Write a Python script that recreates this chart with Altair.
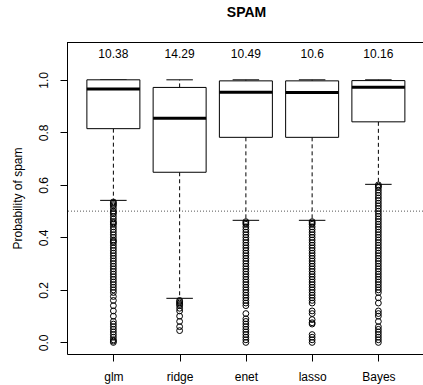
import altair as alt
import pandas as pd

# ---- data ----
methods = ["glm", "ridge", "enet", "lasso", "Bayes"]
errors = ["10.38", "14.29", "10.49", "10.6", "10.16"]
q1 = [0.814, 0.648, 0.781, 0.781, 0.840]
medians = [0.965, 0.854, 0.953, 0.952, 0.972]
q3 = [1.0, 0.971, 0.996, 0.996, 0.997]
lower_whisker = [0.541, 0.168, 0.465, 0.465, 0.602]
upper_whisker = [1.0, 1.0, 1.0, 1.0, 1.0]

glm_out = [0.535, 0.53, 0.525, 0.52, 0.51, 0.50, 0.495, 0.49, 0.48, 0.47, 0.46, 0.455,
           0.45, 0.44, 0.43, 0.42, 0.41, 0.40, 0.39, 0.385, 0.38, 0.37, 0.36, 0.35,
           0.34, 0.33, 0.32, 0.31, 0.30, 0.29, 0.28, 0.27, 0.26, 0.25, 0.24, 0.23,
           0.22, 0.21, 0.20, 0.19, 0.175, 0.16, 0.14, 0.12, 0.10, 0.08, 0.07, 0.06,
           0.05, 0.04, 0.03, 0.02, 0.01, 0.005, 0.0]
ridge_out = [0.16, 0.155, 0.15, 0.145, 0.14, 0.13, 0.12, 0.10, 0.08, 0.06, 0.045]
enet_out = [0.46, 0.455, 0.45, 0.44, 0.43, 0.42, 0.41, 0.40, 0.39, 0.38, 0.37, 0.36,
            0.35, 0.34, 0.33, 0.32, 0.31, 0.30, 0.29, 0.28, 0.27, 0.26, 0.25, 0.24,
            0.23, 0.22, 0.21, 0.20, 0.19, 0.18, 0.17, 0.16, 0.15, 0.14, 0.11, 0.09,
            0.08, 0.07, 0.06, 0.05, 0.04, 0.03, 0.02, 0.01, 0.0]
lasso_out = [0.46, 0.455, 0.45, 0.44, 0.43, 0.42, 0.41, 0.40, 0.39, 0.38, 0.37, 0.36,
             0.35, 0.34, 0.33, 0.32, 0.31, 0.30, 0.29, 0.28, 0.27, 0.26, 0.25, 0.24,
             0.23, 0.22, 0.21, 0.20, 0.19, 0.18, 0.17, 0.16, 0.15, 0.12, 0.11, 0.087,
             0.075, 0.07, 0.03, 0.02, 0.01, 0.0]
bayes_out = [0.60, 0.595, 0.59, 0.58, 0.57, 0.56, 0.55, 0.54, 0.53, 0.52, 0.51, 0.50,
             0.49, 0.48, 0.47, 0.46, 0.45, 0.44, 0.43, 0.42, 0.41, 0.40, 0.39, 0.38,
             0.37, 0.36, 0.35, 0.34, 0.33, 0.32, 0.31, 0.30, 0.29, 0.28, 0.27, 0.26,
             0.25, 0.24, 0.23, 0.22, 0.21, 0.20, 0.19, 0.17, 0.15, 0.12, 0.11, 0.10,
             0.08, 0.06, 0.05, 0.04, 0.03, 0.02, 0.01, 0.0]

title_text = "SPAM"
y_title = "Probability of spam"
y_ticks = [0.0, 0.2, 0.4, 0.6, 0.8, 1.0]
x_ticks = [1, 2, 3, 4, 5]
threshold = 0.5
label_level = 1.1

# ---- tables ----
boxes = pd.DataFrame({
    "method": methods, "pos": x_ticks, "err": errors,
    "q1": q1, "median": medians, "q3": q3,
    "lo": lower_whisker, "hi": upper_whisker,
})
out_rows = []
for m, p, vals in zip(methods, x_ticks, [glm_out, ridge_out, enet_out, lasso_out, bayes_out]):
    for v in vals:
        out_rows.append({"method": m, "pos": p, "value": v})
outliers = pd.DataFrame(out_rows)

FONT = "Liberation Sans"
W, H = 356, 312
xscale = alt.Scale(domain=[0.3, 0.3 + W / 66.25], nice=False, zero=False)
yscale = alt.Scale(domain=[-0.044, 1.144], nice=False, zero=False)

label_expr = "[" + ",".join("'%s'" % m for m in methods) + "][datum.value - 1]"
xaxis = alt.Axis(values=x_ticks, labelExpr=label_expr, title=None, grid=False,
                 tickSize=7, tickColor="black", domainColor="black",
                 labelFont=FONT, labelFontSize=12, labelColor="black",
                 labelBaseline="alphabetic", labelPadding=19, labelFlush=False)
yaxis = alt.Axis(values=y_ticks, format=".1f", title=y_title, grid=False,
                 tickSize=7, tickColor="black", domainColor="black",
                 labelFont=FONT, labelFontSize=12, labelColor="black",
                 labelAngle=270, labelAlign="center", labelBaseline="middle",
                 labelPadding=17, labelFlush=False,
                 titleFont=FONT, titleFontSize=12, titleFontWeight="normal",
                 titleColor="black", titleAngle=270, titleAlign="center",
                 titleBaseline="middle", titleX=-50, titleY=H / 2)

base = alt.Chart(boxes).transform_calculate(
    bx1="datum.pos - 0.4", bx2="datum.pos + 0.4",
    sx1="datum.pos - 0.2", sx2="datum.pos + 0.2",
)

X = lambda f: alt.X(f, type="quantitative", scale=xscale, axis=xaxis)
Y = lambda f: alt.Y(f, type="quantitative", scale=yscale, axis=yaxis)

dash = [4, 3]
wh_up = base.mark_rule(color="black", strokeWidth=1, strokeDash=dash).encode(
    x=X("pos"), y=Y("q3"), y2="hi")
wh_lo = base.mark_rule(color="black", strokeWidth=1, strokeDash=dash).encode(
    x=X("pos"), y=Y("q1"), y2="lo")
st_up = base.mark_rule(color="black", strokeWidth=1).encode(
    x=X("sx1"), x2="sx2", y=Y("hi"))
st_lo = base.mark_rule(color="black", strokeWidth=1).encode(
    x=X("sx1"), x2="sx2", y=Y("lo"))
box = base.mark_rect(fill="white", stroke="black", strokeWidth=1).encode(
    x=X("bx1"), x2="bx2", y=Y("q1"), y2="q3")
med = base.mark_rule(color="black", strokeWidth=3, strokeCap="butt").encode(
    x=X("bx1"), x2="bx2", y=Y("median"))
pts = alt.Chart(outliers).mark_point(shape="circle", filled=False, size=34,
                                     strokeWidth=1, color="black", opacity=1).encode(
    x=X("pos"), y=Y("value"))
errtxt = base.mark_text(font=FONT, fontSize=12, color="black", baseline="middle").encode(
    x=X("pos"), y=alt.datum(label_level, scale=yscale, axis=yaxis), text="err:N")
thr = alt.Chart(pd.DataFrame({"t": [threshold]})).mark_rule(
    color="#555555", strokeWidth=1, strokeDash=[1, 2]).encode(y=Y("t"))
top = alt.Chart(pd.DataFrame({"t": [0]})).mark_rule(color="black", strokeWidth=1).encode(
    y=alt.value(0.5), x=alt.value(0), x2=alt.value(W))
ttl = alt.Chart(pd.DataFrame({"t": [title_text]})).mark_text(
    font=FONT, fontSize=14, fontWeight="bold", color="black", baseline="alphabetic",
    align="center").encode(x=alt.value(179.5), y=alt.value(-25), text="t:N")

chart = alt.layer(thr, wh_up, wh_lo, st_up, st_lo, box, med, pts, errtxt, top, ttl).properties(
    width=W, height=H,
    autosize=alt.AutoSizeParams(type="none"),
    padding={"left": 67, "top": 42, "right": 0, "bottom": 31},
).configure_view(stroke=None).configure(background="white")

chart.save("out.html", embed_options={"renderer": "svg", "actions": False})
